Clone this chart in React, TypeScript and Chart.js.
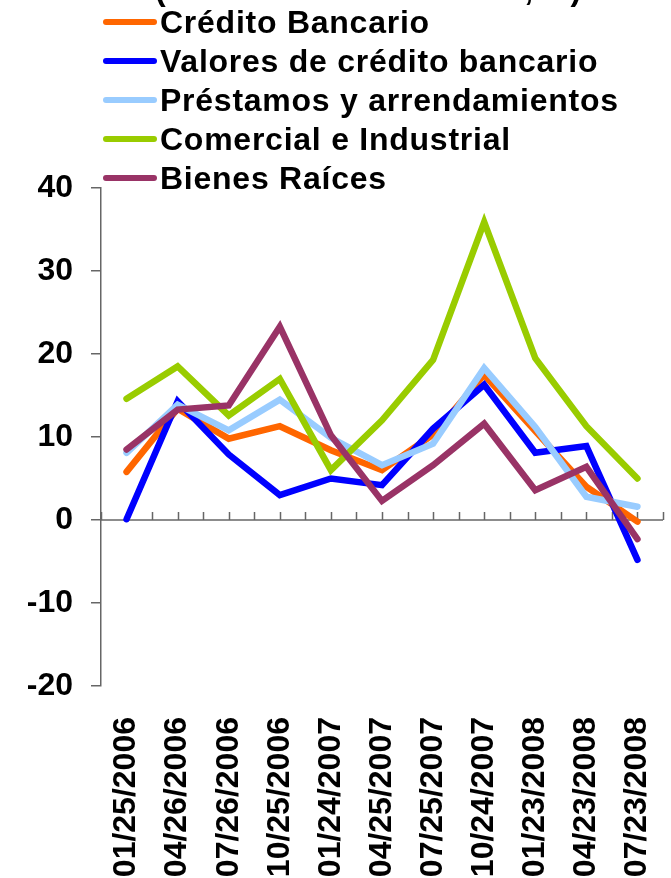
import React, { useEffect, useRef } from "react";
import { Chart, registerables } from "chart.js";

Chart.register(...registerables);

const categories = [
  "01/25/2006", "04/26/2006", "07/26/2006", "10/25/2006", "01/24/2007", "04/25/2007",
  "07/25/2007", "10/24/2007", "01/23/2008", "04/23/2008", "07/23/2008",
];
const credito = [5.8, 13.4, 9.8, 11.3, 8.4, 6.0, 10.3, 17.5, 10.7, 4.0, -0.2];
const valores = [0.1, 14.3, 7.9, 3.0, 5.0, 4.2, 11.0, 16.3, 8.1, 8.9, -4.8];
const prestamos = [8.1, 13.9, 10.8, 14.5, 9.9, 6.6, 9.2, 18.3, 11.2, 2.8, 1.6];
const comercial = [14.6, 18.5, 12.6, 17.0, 6.0, 12.0, 19.3, 35.9, 19.5, 11.3, 5.0];
const bienes = [8.5, 13.3, 13.8, 23.3, 10.2, 2.3, 6.6, 11.6, 3.6, 6.4, -2.3];
const yTicks = [-20, -10, 0, 10, 20, 30, 40];
const titleText = "(Tasa de variación anual, %)";

const FONT = "'Liberation Sans', Arial, sans-serif";
const AXIS = "#666666";

const zeroAxisPlugin = {
  id: "zeroAxis",
  beforeDatasetsDraw(chart: any) {
    const { ctx, chartArea, scales } = chart;
    const x = scales.x;
    const y = scales.y;
    const y0 = y.getPixelForValue(0);
    ctx.save();
    ctx.strokeStyle = AXIS;
    ctx.lineWidth = 1.5;
    ctx.beginPath();
    ctx.moveTo(chartArea.left, y0);
    ctx.lineTo(chartArea.right, y0);
    ctx.stroke();
    const n = categories.length;
    ctx.beginPath();
    for (let i = 0; i <= 2 * n; i++) {
      const px = Math.round(x.getPixelForValue(i / 2 - 0.5)) + 0.5;
      ctx.moveTo(px, y0);
      ctx.lineTo(px, y0 - 8);
    }
    ctx.stroke();
    ctx.restore();
  },
};

const legendPlugin = {
  id: "customLegend",
  afterDraw(chart: any) {
    const { ctx } = chart;
    ctx.save();
    ctx.font = `bold 32px ${FONT}`;
    ctx.fillStyle = "#000";
    ctx.textBaseline = "alphabetic";
    ctx.textAlign = "left";
    ctx.fillText(titleText, 155, 0);
    try {
      (ctx as any).letterSpacing = "0.75px";
    } catch (e) {}
    chart.data.datasets.forEach((ds: any, i: number) => {
      const base = 33 + i * 39;
      const cy = base - 11;
      ctx.strokeStyle = ds.borderColor;
      ctx.lineWidth = 6;
      ctx.lineCap = "round";
      ctx.beginPath();
      ctx.moveTo(106, cy);
      ctx.lineTo(154, cy);
      ctx.stroke();
      ctx.fillText(ds.label, 160, base);
    });
    ctx.restore();
  },
};

export default function App() {
  const ref = useRef<HTMLCanvasElement | null>(null);
  useEffect(() => {
    if (!ref.current) return;
    const mk = (label: string, data: number[], color: string, order: number) => ({
      label,
      data,
      borderColor: color,
      backgroundColor: color,
      borderWidth: 6.5,
      pointRadius: 0,
      borderCapStyle: "round" as const,
      tension: 0,
      order,
    });
    const chart = new Chart(ref.current, {
      type: "line",
      data: {
        labels: categories,
        datasets: [
          mk("Crédito Bancario", credito, "#FF6600", 4),
          mk("Valores de crédito bancario", valores, "#0000FF", 3),
          mk("Préstamos y arrendamientos", prestamos, "#99CCFF", 2),
          mk("Comercial e Industrial", comercial, "#99CC00", 1),
          mk("Bienes Raíces", bienes, "#993366", 0),
        ],
      },
      options: {
        animation: false,
        responsive: false,
        layout: { padding: { top: 188, right: 8, left: 0, bottom: 0 } },
        plugins: {
          legend: { display: false },
          title: { display: false },
          tooltip: { enabled: false },
        },
        scales: {
          x: {
            type: "category",
            offset: true,
            grid: { display: false, drawTicks: false },
            border: { display: false },
            ticks: {
              minRotation: 90,
              maxRotation: 90,
              padding: 31,
              color: "#000",
              font: { family: FONT, size: 32, weight: "bold" },
              autoSkip: false,
            },
            afterFit: (s: any) => {
              s.height = 192;
              s.paddingLeft = 0;
              s.paddingRight = 0;
            },
          },
          y: {
            min: -20,
            max: 40,
            afterBuildTicks: (s: any) => {
              s.ticks = yTicks.map((v) => ({ value: v }));
            },
            grid: {
              drawOnChartArea: false,
              drawTicks: true,
              tickLength: 10,
              color: AXIS,
              lineWidth: 1.5,
            },
            border: { display: true, color: AXIS, width: 1.5 },
            ticks: {
              padding: 18,
              color: "#000",
              font: { family: FONT, size: 32, weight: "bold" },
            },
            afterFit: (s: any) => {
              s.width = 101;
            },
          },
        },
      },
      plugins: [zeroAxisPlugin, legendPlugin],
    });
    return () => chart.destroy();
  }, []);
  return (
    <div style={{ position: "absolute", left: 0, top: 0, width: 671, height: 878, background: "#fff" }}>
      <canvas ref={ref} width={671} height={878} />
    </div>
  );
}
